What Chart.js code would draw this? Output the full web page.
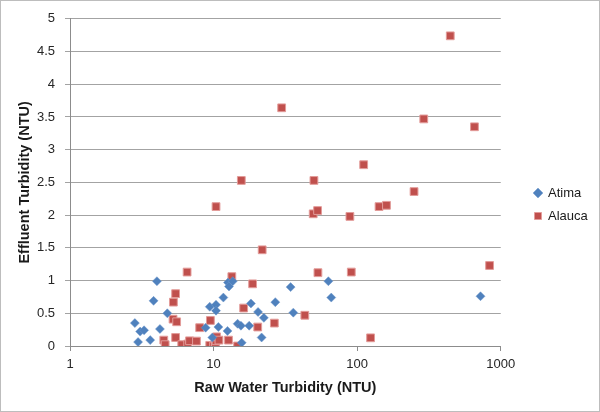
<!DOCTYPE html>
<html>
<head>
<meta charset="utf-8">
<script src="https://cdn.jsdelivr.net/npm/chart.js@4/dist/chart.umd.min.js"></script>
<style>
    html, body { margin: 0; padding: 0; background: #fff; }
    #wrap { position: relative; width: 600px; height: 412px; box-sizing: border-box; border: 1px solid #bdbdbd; }
</style>
</head>
<body>
<div id="wrap"><canvas id="grafico"></canvas></div>
<script>
// raw water turbidity (NTU) and effluent turbidity (NTU)
const atimaRaw = [2.83, 3.08, 3.28, 2.98, 3.62, 3.82, 4.03, 4.23, 4.76, 8.8, 9.4, 9.8, 10.4, 10.4, 10.8, 11.7, 12.5, 12.6, 12.8, 13.6, 14.7, 15.5, 15.7, 17.7, 18.2, 20.4, 21.6, 22.4, 26.9, 34.4, 35.9, 63, 66, 723];
const atimaEff = [0.35, 0.22, 0.24, 0.06, 0.09, 0.69, 0.99, 0.26, 0.50, 0.28, 0.60, 0.13, 0.63, 0.54, 0.29, 0.74, 0.23, 0.97, 0.91, 0.99, 0.34, 0.31, 0.05, 0.31, 0.65, 0.52, 0.13, 0.43, 0.67, 0.90, 0.51, 0.99, 0.74, 0.76];

const alaucaRaw = [4.5, 4.6, 5.22, 5.25, 5.44, 5.44, 5.53, 6.0, 6.54, 6.6, 6.8, 7.6, 8.0, 9.4, 9.5, 10.0, 10.3, 10.4, 10.5, 10.4, 10.9, 12.7, 13.4, 14.7, 15.6, 16.2, 18.7, 20.3, 21.8, 26.5, 29.8, 43.2, 49.4, 50, 53, 53.3, 89, 91, 111, 124, 142, 160, 249, 291, 445, 656, 836];
const alaucaEff = [0.09, 0.02, 0.41, 0.67, 0.80, 0.13, 0.37, 0.02, 1.13, 0.03, 0.08, 0.075, 0.28, 0.01, 0.39, 0.0, 0.03, 0.08, 0.14, 2.13, 0.09, 0.09, 1.06, 0.0, 2.53, 0.58, 0.95, 0.29, 1.47, 0.35, 3.64, 0.47, 2.02, 2.53, 2.07, 1.12, 1.98, 1.13, 2.77, 0.125, 2.13, 2.15, 2.36, 3.47, 4.74, 3.35, 1.23];

const xTicks = [1, 10, 100, 1000];
const yMax = 5;
const yStep = 0.5;

function pares(xs, ys) {
    return xs.map((x, i) => ({ x: x, y: ys[i] }));
}

// move the legend a bit further from the plot, like the Excel original
const posLegenda = {
    id: 'posLegenda',
    afterLayout(chart) {
        const lg = chart.legend;
        if (!lg) return;
        const lab = lg.options.labels;
        const dx = 537 - (lg.left + lab.padding + lab.boxWidth / 2);
        lg.left += dx;
        lg.right += dx;
        lg.top -= 2;
        lg.bottom -= 2;
    }
};

const ctx = document.getElementById('grafico');

new Chart(ctx, {
    type: 'scatter',
    data: {
        datasets: [
            {
                label: 'Atima',
                data: pares(atimaRaw, atimaEff),
                pointStyle: 'rectRot',
                pointRadius: 4.5,
                pointHoverRadius: 4.5,
                backgroundColor: '#4F81BD',
                borderColor: '#6F97CB',
                borderWidth: 0.5
            },
            {
                label: 'Alauca',
                data: pares(alaucaRaw, alaucaEff),
                pointStyle: 'rect',
                pointRadius: 5.5,
                pointHoverRadius: 5.5,
                backgroundColor: '#C0504D',
                borderColor: '#E39C9A',
                borderWidth: 1
            }
        ]
    },
    options: {
        responsive: true,
        maintainAspectRatio: false,
        animation: false,
        layout: { padding: { left: 15, right: 25, top: 15, bottom: 14 } },
        scales: {
            x: {
                type: 'logarithmic',
                min: 1,
                max: 1000,
                afterBuildTicks: (scale) => { scale.ticks = xTicks.map(v => ({ value: v })); },
                afterFit: (scale) => { scale.height = 51; },
                grid: { drawOnChartArea: false, drawTicks: true, tickLength: 5, color: '#8c8c8c' },
                border: { color: '#8c8c8c' },
                ticks: {
                    color: '#262626',
                    font: { family: 'Liberation Sans', size: 13 },
                    padding: 6,
                    callback: (v) => String(v)
                },
                title: {
                    display: true,
                    text: 'Raw Water Turbidity (NTU)',
                    color: '#1a1a1a',
                    font: { family: 'Liberation Sans', size: 14.5, weight: 'bold' },
                    padding: { top: 4, bottom: 0 }
                }
            },
            y: {
                min: 0,
                max: yMax,
                afterFit: (scale) => { scale.width = 54; },
                grid: { color: '#a3a3a3', tickLength: 5 },
                border: { color: '#8c8c8c' },
                ticks: {
                    stepSize: yStep,
                    color: '#262626',
                    font: { family: 'Liberation Sans', size: 13 },
                    padding: 10,
                    callback: (v) => String(v)
                },
                title: {
                    display: true,
                    text: 'Effluent Turbidity (NTU)',
                    color: '#1a1a1a',
                    font: { family: 'Liberation Sans', size: 14.5, weight: 'bold' },
                    padding: { top: 0, bottom: 4 }
                }
            }
        },
        plugins: {
            legend: {
                position: 'right',
                labels: {
                    usePointStyle: true,
                    boxWidth: 7,
                    boxHeight: 7,
                    padding: 10,
                    color: '#1a1a1a',
                    font: { family: 'Liberation Sans', size: 13 }
                }
            },
            tooltip: { enabled: false }
        }
    },
    plugins: [posLegenda]
});
</script>
</body>
</html>
